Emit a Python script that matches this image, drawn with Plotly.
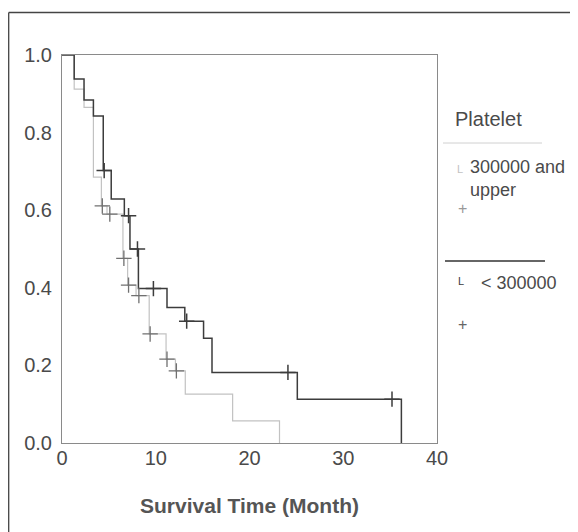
import plotly.graph_objects as go

# ---- data ----
dark_time = [0, 1.3, 2.35, 3.35, 4.4, 5.25, 6.65, 7.25, 8.15, 11.2, 13.1, 15.1, 16.0, 25.1, 36.2]
dark_surv = [1.0, 0.938, 0.884, 0.843, 0.702, 0.629, 0.586, 0.500, 0.398, 0.349, 0.314, 0.270, 0.182, 0.113, 0.0]
dark_cens_t = [4.5, 7.1, 8.05, 9.75, 13.3, 24.1, 35.2]
dark_cens_s = [0.702, 0.586, 0.500, 0.398, 0.314, 0.182, 0.113]

gray_time = [0, 1.3, 2.35, 3.35, 4.2, 4.8, 6.5, 7.0, 7.9, 9.3, 11.1, 12.1, 13.15, 18.2, 23.2]
gray_surv = [1.0, 0.912, 0.865, 0.685, 0.611, 0.590, 0.476, 0.407, 0.380, 0.281, 0.216, 0.186, 0.126, 0.057, 0.0]
gray_cens_t = [4.3, 5.1, 6.6, 7.1, 8.2, 9.4, 11.2, 12.2]
gray_cens_s = [0.611, 0.590, 0.476, 0.407, 0.380, 0.281, 0.216, 0.186]

x_ticks = [0, 10, 20, 30, 40]
y_ticks = [0.0, 0.2, 0.4, 0.6, 0.8, 1.0]
y_tick_text = ["0.0", "0.2", "0.4", "0.6", "0.8", "1.0"]

legend_title = "Platelet"
group_labels = ["300000 and<br>upper", "< 300000"]

DARK = "#3c3c3c"
LIGHT = "#c2c2c2"
CENS = "#707070"
TXT = "#4a4a4a"
FONT = "Liberation Sans, Arial, sans-serif"

fig = go.Figure()
fig.add_trace(go.Scatter(x=gray_time, y=gray_surv, mode="lines", line_shape="hv",
                         line=dict(color=LIGHT, width=1.2), showlegend=False))
fig.add_trace(go.Scatter(x=dark_time, y=dark_surv, mode="lines", line_shape="hv",
                         line=dict(color=DARK, width=1.5), showlegend=False))
fig.add_trace(go.Scatter(x=gray_cens_t, y=gray_cens_s, mode="markers",
                         marker=dict(symbol="cross-thin", size=11, line=dict(color=CENS, width=1.3)),
                         showlegend=False))
fig.add_trace(go.Scatter(x=dark_cens_t, y=dark_cens_s, mode="markers",
                         marker=dict(symbol="cross-thin", size=11, line=dict(color=DARK, width=1.5)),
                         showlegend=False))

# page body has an 8px margin: the figure starts at (8, 8) on screen
OFF = 8
W, H = 578 - OFF, 532 - OFF
L, R, T, B = 62 - OFF, 141, 55 - OFF, 89
pw, ph = W - L - R, H - T - B


def px(x):
    return (x - OFF - L) / pw


def py(y):
    return (H - B - (y - OFF)) / ph


shapes = [
    # outer border (top and left)
    dict(type="line", xref="paper", yref="paper", x0=px(8.7), x1=px(578), y0=py(12.5), y1=py(12.5),
         line=dict(color="#444", width=1.3)),
    dict(type="line", xref="paper", yref="paper", x0=px(8.7), x1=px(8.7), y0=py(12.5), y1=py(532),
         line=dict(color="#444", width=1.3)),
    # legend separator lines
    dict(type="line", xref="paper", yref="paper", x0=px(443), x1=px(542), y0=py(143), y1=py(143),
         line=dict(color="#d0d0d0", width=1)),
    dict(type="line", xref="paper", yref="paper", x0=px(445), x1=px(545), y0=py(261), y1=py(261),
         line=dict(color="#333", width=1.3)),
]

annotations = [
    dict(text=legend_title, x=px(453), y=py(119), xref="paper", yref="paper", xanchor="left",
         yanchor="middle", showarrow=False, font=dict(family=FONT, size=20, color=TXT)),
    dict(text="L", x=px(455), y=py(169), xref="paper", yref="paper", xanchor="left",
         yanchor="middle", showarrow=False, font=dict(family=FONT, size=11, color=LIGHT)),
    dict(text=group_labels[0], x=px(468), y=py(178), xref="paper", yref="paper", xanchor="left",
         yanchor="middle", showarrow=False, align="left",
         font=dict(family=FONT, size=18, color=TXT)),
    dict(text="+", x=px(463), y=py(208), xref="paper", yref="paper", xanchor="center",
         yanchor="middle", showarrow=False, font=dict(family=FONT, size=16, color="#999999")),
    dict(text="L", x=px(456), y=py(281), xref="paper", yref="paper", xanchor="left",
         yanchor="middle", showarrow=False, font=dict(family=FONT, size=11, color=DARK)),
    dict(text=group_labels[1], x=px(479), y=py(283), xref="paper", yref="paper", xanchor="left",
         yanchor="middle", showarrow=False, font=dict(family=FONT, size=18, color=TXT)),
    dict(text="+", x=px(463), y=py(324), xref="paper", yref="paper", xanchor="center",
         yanchor="middle", showarrow=False, font=dict(family=FONT, size=16, color="#666666")),
]

fig.update_layout(
    width=W, height=H,
    margin=dict(l=L, r=R, t=T, b=B, pad=0),
    paper_bgcolor="white", plot_bgcolor="white",
    font=dict(family=FONT, size=20, color=TXT),
    shapes=shapes, annotations=annotations,
    showlegend=False,
)
fig.update_xaxes(range=[0, 40], tickvals=x_ticks, showgrid=False, zeroline=False,
                 showline=True, linecolor="#8a8a8a", linewidth=1, mirror=True, ticks="",
                 tickfont=dict(size=20, color=TXT), ticklabelstandoff=-3,
                 title=dict(text="<b>Survival Time (Month)</b>", font=dict(size=21, color="#555"),
                            standoff=30))
fig.update_yaxes(range=[0, 1], tickvals=y_ticks, ticktext=y_tick_text, showgrid=False,
                 zeroline=False, showline=True, linecolor="#8a8a8a", linewidth=1, mirror=True,
                 ticks="", tickfont=dict(size=20, color=TXT), ticklabelstandoff=5)

fig.write_html("out.html")
